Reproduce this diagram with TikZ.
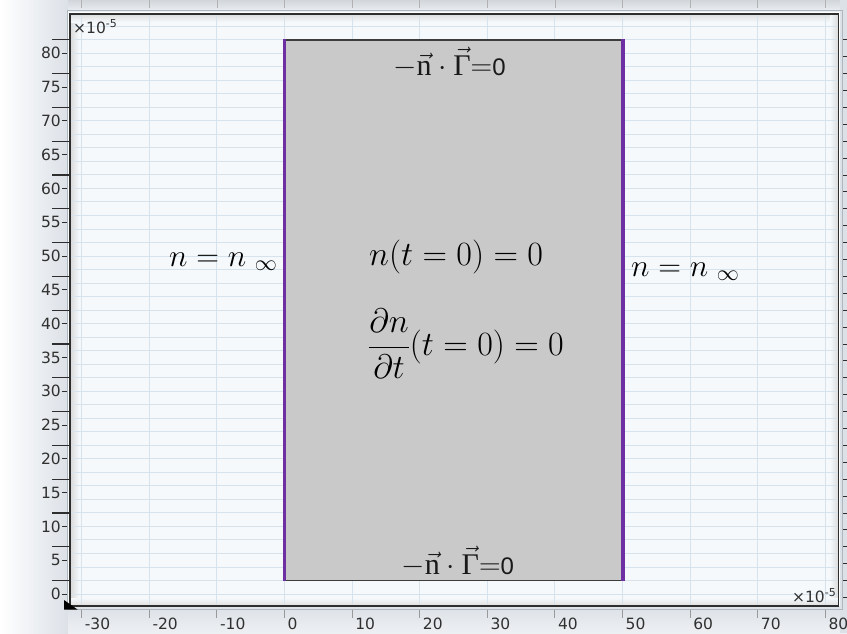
\RequirePackage{fix-cm}
\documentclass[tikz,border=0pt]{standalone}
\usepackage{amsmath}
\usepackage{fontspec}
\newfontfamily\axisfont{DejaVu Sans}
\newfontfamily\lserif{Liberation Serif}
\newfontfamily\lsans{Liberation Sans}
\definecolor{plotbg}{HTML}{F5F9FC}
\definecolor{gridc}{HTML}{D6E2EC}
\definecolor{rectgray}{HTML}{C9C9C9}
\definecolor{rectedge}{HTML}{3C3C3C}
\definecolor{bpurple}{HTML}{6E2FA3}
\definecolor{framedark}{HTML}{2E2E2E}
\definecolor{frameout}{HTML}{AEB6BE}
\definecolor{shadowgray}{HTML}{DCE1E7}
\definecolor{axtext}{HTML}{303030}
\newcommand{\bcflux}{$-\vec{\text{\lserif n}}\cdot\vec{\text{\lserif Γ}}{=}${\lsans\fontsize{24}{26}\selectfont 0}}
\tikzset{
  gridline/.style={draw=gridc, line width=0.9pt},
  axlabel/.style={font=\axisfont\fontsize{15.5}{17}\selectfont, text=axtext, inner sep=0pt},
  eqlabel/.style={font=\fontsize{34}{40}\selectfont, inner sep=0pt},
  sidelabel/.style={font=\fontsize{31.5}{36}\selectfont, inner sep=0pt},
  bclabel/.style={font=\lserif\fontsize{30}{33}\selectfont, inner sep=0pt, text=black!90},
  longbar/.style={draw=framedark, line width=1.2pt},
  smalltick/.style={draw=framedark, line width=0.8pt},
  xtick/.style={draw=gray!80, line width=0.9pt}
}
\begin{document}
\begin{tikzpicture}[x=1pt,y=-1pt]
\useasboundingbox (0,0) rectangle (847,633);
% outside background
\fill[white] (0,0) rectangle (847,633);
\shade[left color=white, right color=shadowgray] (0,0) rectangle (68,633);
\shade[top color=shadowgray, bottom color=white!50!shadowgray] (68,606) rectangle (847,633);
\shade[top color=shadowgray!90!gray, bottom color=white!40!shadowgray] (68,0) rectangle (847,11);
\fill[shadowgray] (840,0) rectangle (847,633);
% top strip ticks
\foreach \u in {-30,-20,...,80}
  \draw[draw=gray!60, line width=0.8pt] ({284.5+6.76*\u},0) -- ({284.5+6.76*\u},8);
% right ruler ticks
\foreach \k in {0,...,33}
  \draw[draw=framedark, line width=0.8pt] (843,{39.7+16.9*\k}) -- (847,{39.7+16.9*\k});
% plot area
\fill[plotbg] (70,14) rectangle (839,606);
\shade[left color=black!14, right color=plotbg] (71,15) rectangle (79,605);
\shade[top color=black!12, bottom color=plotbg] (71,15) rectangle (838,22);
\shade[right color=black!14, left color=plotbg] (830,15) rectangle (838,605);
\shade[bottom color=black!12, top color=plotbg] (71,598) rectangle (838,605);
% grid
\foreach \v in {0,2,...,84}
  \draw[gridline] (71,{594-6.76*\v}) -- (838,{594-6.76*\v});
\foreach \u in {-30,-20,...,80}
  \draw[gridline] ({284.5+6.76*\u},15) -- ({284.5+6.76*\u},605);
% frame
\draw[draw=frameout, line width=1pt] (67,10.8) rectangle (842.5,609.5);
\draw[draw=framedark, line width=1.6pt] (70,14) rectangle (838.5,606);
% corner triangle
\fill[black] (64,600) -- (64,609.5) -- (77.5,609.5) -- cycle;
% y axis
\foreach \v in {0,5,...,80} {
  \draw[smalltick] (62,{594-6.76*\v}) -- (67,{594-6.76*\v});
  \node[axlabel, anchor=east] (yl\v) at (61,{594-6.76*\v}) {\v};
}
\foreach \k in {0,...,16}
  \draw[longbar] (52,{580.5-33.8*\k}) -- (68.5,{580.5-33.8*\k});
% x axis
\foreach \u in {-30,-20,...,80} {
  \draw[xtick] ({284.5+6.76*\u},609.5) -- ({284.5+6.76*\u},618);
  \node[axlabel, anchor=west] (xl\u) at ({287.5+6.76*\u},623.5) {\u};
}
\node[axlabel, anchor=north west] (ysc) at (73,19) {×10\raisebox{6pt}{\fontsize{11}{11}\selectfont -5}};
\node[axlabel, anchor=south east] (xsc) at (836,603) {×10\raisebox{6pt}{\fontsize{11}{11}\selectfont -5}};
% domain rectangle
\fill[rectgray] (284.3,39.7) rectangle (623,580.5);
\draw[draw=rectedge, line width=1.6pt] (284.3,39.7) -- (623,39.7);
\draw[draw=rectedge, line width=1.6pt] (284.3,580.5) -- (623,580.5);
\draw[draw=bpurple, line width=3.4pt] (284.3,38.9) -- (284.3,581.3);
\draw[draw=bpurple, line width=3.4pt] (623,38.9) -- (623,581.3);
% labels
\node[bclabel, anchor=base] (topbc) at (449.5,75.7) {\bcflux};
\node[bclabel, anchor=base] (botbc) at (457.8,574.3) {\bcflux};
\node[eqlabel, anchor=base west] (ic1) at (369,265) {$n(t=0)=0$};
\node[eqlabel, anchor=west] (ic2) at (368,344) {$\dfrac{\partial n}{\partial t}(t=0)=0$};
\node[sidelabel, anchor=base west] (leftbc) at (169,266) {$n=n\;{}_{\infty}$};
\node[sidelabel, anchor=base west] (rightbc) at (631,276) {$n=n\;{}_{\infty}$};
\end{tikzpicture}
\end{document}
